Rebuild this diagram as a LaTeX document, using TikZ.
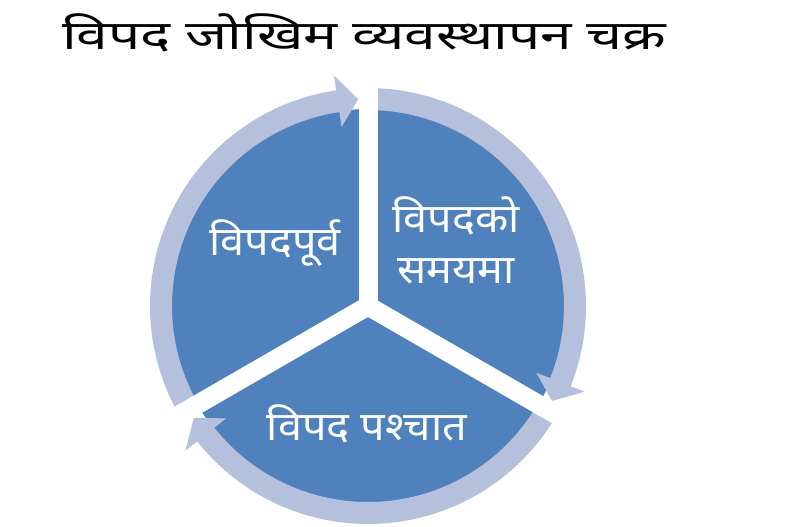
\documentclass[tikz,border=0pt]{standalone}
\usepackage{fontspec}
\usepackage{graphicx}
\newfontfamily\deva[Script=Devanagari]{Noto Sans}
\definecolor{discblue}{RGB}{79,129,189}
\definecolor{ringblue}{RGB}{181,192,220}
\tikzset{
  lbl/.style={text=white, font=\deva\fontsize{40}{44}\selectfont, anchor=base, inner sep=0pt},
  ttl/.style={text=black, font=\deva\fontsize{40}{44}\selectfont, anchor=base west, inner sep=0pt},
  gapline/.style={white, line width=19pt},
  ringfill/.style={fill=ringblue}
}
\newcommand\widetxt[2]{\scalebox{#1}[1]{#2}}
% #1 start angle, #2 gap angle at which the tip sits
\newcommand\cyclearrowseg[2]{%
  \pgfmathsetmacro\tipang{#2-2.7}%
  \pgfmathsetmacro\barbang{#2-8.4}%
  \fill[ringfill] (#1:196) arc[start angle=#1, end angle=\barbang, radius=196]
    -- (\barbang:181) -- (\tipang:207) -- (\barbang:233) -- (\barbang:218)
    arc[start angle=\barbang, end angle=#1, radius=218] -- cycle;
}
\begin{document}
\begin{tikzpicture}[x=1pt, y=-1pt]
\useasboundingbox (0,0) rectangle (793,527);
\node[ttl] (title) at (62,50) {\widetxt{1.42}{विपद जोखिम व्यवस्थापन चक्र}};
\begin{scope}[shift={(368,306)}]
  \coordinate (c) at (0,0);
  \fill[discblue] (c) circle[radius=197];
  \cyclearrowseg{150}{270}
  \cyclearrowseg{270}{390}
  \cyclearrowseg{30}{150}
  \draw[gapline] (90:10) -- (270:250);
  \draw[gapline] (210:10) -- (30:250);
  \draw[gapline] (330:10) -- (150:250);
\end{scope}
\node[lbl] (pre) at (275,255) {\widetxt{1.08}{विपदपूर्व}};
\node[lbl] (dur1) at (456,232) {\widetxt{1.08}{विपदको}};
\node[lbl] (dur2) at (456,283) {\widetxt{1.08}{समयमा}};
\node[lbl] (post) at (367,440) {\widetxt{1.08}{विपद पश्चात}};
\end{tikzpicture}
\end{document}
